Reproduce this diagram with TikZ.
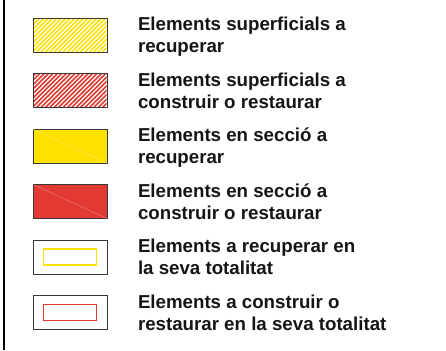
\documentclass[tikz,border=0pt]{standalone}
\usepackage{fontspec}
\setmainfont{Liberation Sans}
\usepackage{tikz}
\usetikzlibrary{positioning,calc}
\definecolor{Ink}{HTML}{151515}
\definecolor{Frame}{HTML}{383838}
\definecolor{Groc}{HTML}{FFE100}
\definecolor{Vermell}{HTML}{E23A33}
\tikzset{
  legbox/.style={draw=Frame, line width=0.9pt, minimum width=74pt, minimum height=34pt,
                 inner sep=0pt, outer sep=0pt, anchor=north west},
  legtext/.style={anchor=base west, align=left, inner sep=0pt, outer sep=0pt, text=Ink,
                  font=\fontsize{18.7}{22}\selectfont\bfseries},
  inbox/.style={draw=#1, line width=1.2pt, minimum width=53pt, minimum height=16pt,
                inner sep=0pt, outer sep=0pt}
}
% hatched box: colour, name, top
\newcommand{\HatchBox}[3]{%
\node[legbox] (#2) at (33,#3) {};
\begin{scope}
  \clip ([shift={(0.5pt,0.5pt)}]#2.south west) rectangle ([shift={(-0.5pt,-0.5pt)}]#2.north east);
  \foreach \k in {-36,-31.6,...,76}
    \draw[#1, line width=1.6pt] ([xshift=\k pt]#2.south west) -- ++(36pt,36pt);
\end{scope}
\draw[Frame, line width=0.9pt] (#2.south west) rectangle (#2.north east);
}
% filled box: colour, name, top
\newcommand{\SolidBox}[3]{%
\node[legbox, fill=#1] (#2) at (33,#3) {};
\draw[#1!55!white, line width=0.3pt] (#2.north west) -- (#2.south east);
}
% box with inner frame: colour, name, top
\newcommand{\WholeBox}[3]{%
\node[legbox] (#2) at (33,#3) {};
\node[inbox=#1] (#2in) at (#2.center) {};
}

\begin{document}
\begin{tikzpicture}[
    x=1pt,
    y=-1pt
]
\useasboundingbox (0,0) rectangle (446,350);

% left rule
\coordinate (rtop) at (4,0);
\coordinate (rbot) at (4,350);
\draw[black, line width=2.2pt] (rtop) -- (rbot);

% surface elements
\HatchBox{Groc}{b1}{18}
\node[legtext] (t1) at ([xshift=31pt,yshift=-34.6pt]b1.north east) {Elements superficials a\\recuperar};

\HatchBox{Vermell}{b2}{73.5}
\node[legtext] (t2) at ([xshift=31pt,yshift=-34.6pt]b2.north east) {Elements superficials a\\construir o restaurar};

% section elements
\SolidBox{Groc}{b3}{129}
\node[legtext] (t3) at ([xshift=31pt,yshift=-34.6pt]b3.north east) {Elements en secció a\\recuperar};

\SolidBox{Vermell}{b4}{184.5}
\node[legtext] (t4) at ([xshift=31pt,yshift=-34.6pt]b4.north east) {Elements en secció a\\construir o restaurar};

% whole elements
\WholeBox{Groc}{b5}{240}
\node[legtext] (t5) at ([xshift=31pt,yshift=-34.6pt]b5.north east) {Elements a recuperar en\\la seva totalitat};

\WholeBox{Vermell}{b6}{295.5}
\node[legtext] (t6) at ([xshift=31pt,yshift=-34.6pt]b6.north east) {Elements a construir o\\restaurar en la seva totalitat};

\end{tikzpicture}
\end{document}
